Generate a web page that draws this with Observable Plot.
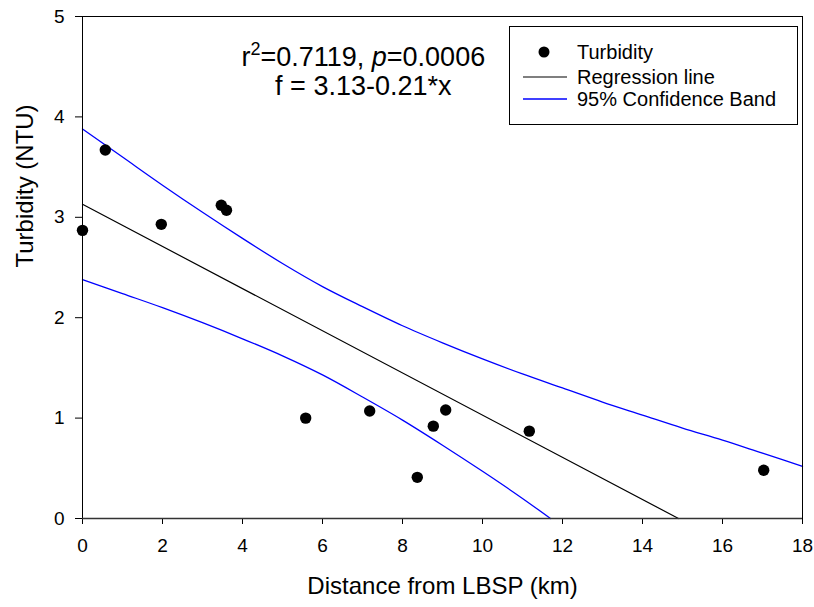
<!DOCTYPE html>
<html><head><meta charset="utf-8">
<script src="https://cdn.jsdelivr.net/npm/d3@7"></script>
<script src="https://cdn.jsdelivr.net/npm/@observablehq/plot@0.6"></script>
<style>body{margin:0;background:#fff;} #chart{width:814px;height:607px;}</style>
</head><body><div id="chart"></div>
<script>
// ---- data ----
const distance  = [0, 0.57, 1.97, 3.47, 3.6, 5.58, 7.18, 8.37, 8.77, 9.08, 11.17, 17.03];
const turbidity = [2.87, 3.67, 2.93, 3.12, 3.07, 1.00, 1.07, 0.41, 0.92, 1.08, 0.87, 0.48];
const regX = [0, 14.9];
const regY = [3.13, 0];
const upperX = [0,1,2,3,4,5,6,7,8,9,10,11,12,13,14,15,16,17,18];
const upperY = [3.88,3.60,3.32,3.05,2.79,2.54,2.31,2.11,1.92,1.75,1.59,1.44,1.30,1.16,1.03,0.90,0.78,0.65,0.52];
const lowerX = [0,1,2,3,4,5,6,7,8,9,10,11,11.7];
const lowerY = [2.38,2.24,2.10,1.95,1.79,1.62,1.43,1.21,0.98,0.73,0.47,0.20,0];
const xTicks = [0,2,4,6,8,10,12,14,16,18];
const yTicks = [0,1,2,3,4,5];
const annotation = ["r2=0.7119, p=0.0006", "f = 3.13-0.21*x"];
const legendLabels = ["Turbidity", "Regression line", "95% Confidence Band"];
const xLabel = "Distance from LBSP (km)";
const yLabel = "Turbidity (NTU)";

const FONT = "'Liberation Sans', Arial, Helvetica, sans-serif";
const pts = distance.map((x, i) => ({x, y: turbidity[i]}));
const reg = regX.map((x, i) => ({x, y: regY[i]}));
const upper = upperX.map((x, i) => ({x, y: upperY[i]}));
const lower = lowerX.map((x, i) => ({x, y: lowerY[i]}));

const chart = Plot.plot({
  width: 814, height: 607,
  marginLeft: 82, marginRight: 12, marginTop: 16, marginBottom: 89,
  style: {fontFamily: FONT, fontSize: "19px", color: "black", background: "white", overflow: "visible"},
  x: {domain: [0, 18], ticks: xTicks, tickSize: 6, tickPadding: 14, label: null, tickFormat: d => String(d)},
  y: {domain: [0, 5], ticks: yTicks, tickSize: 7, tickPadding: 11, label: null, tickFormat: d => String(d)},
  marks: [
    Plot.line(upper, {x: "x", y: "y", stroke: "#0000ff", strokeWidth: 1.3, curve: "monotone-x"}),
    Plot.line(lower, {x: "x", y: "y", stroke: "#0000ff", strokeWidth: 1.3, curve: "monotone-x"}),
    Plot.line(reg, {x: "x", y: "y", stroke: "black", strokeWidth: 1.2}),
    Plot.dot(pts, {x: "x", y: "y", r: 5.7, fill: "black", stroke: "none"}),
    Plot.frame({stroke: "black", strokeWidth: 1}),
    Plot.ruleY([0], {stroke: "#333", strokeWidth: 1.5}),
    Plot.text([annotation[0]], {x: 7.02, y: 4.507, text: d => d, fontSize: 27, lineAnchor: "bottom", textAnchor: "middle", fill: "black"}),
    Plot.text([annotation[1]], {x: 7.02, y: 4.218, text: d => d, fontSize: 27, lineAnchor: "bottom", textAnchor: "middle", fill: "black"}),
    Plot.text([xLabel], {frameAnchor: "bottom", dy: 75, lineAnchor: "bottom", text: d => d, fontSize: 24, fill: "black"}),
    Plot.text([yLabel], {frameAnchor: "left", dx: -50, rotate: -90, lineAnchor: "bottom", text: d => d, fontSize: 24, fill: "black"})
  ]
});
document.getElementById("chart").appendChild(chart);

const svg = d3.select(chart);
// superscript and italic in the statistics line
svg.selectAll("text").filter(function() { return this.textContent === annotation[0]; }).each(function() {
  const t = d3.select(this);
  t.text(null);
  t.append("tspan").text("r");
  t.append("tspan").attr("dy", -11).attr("font-size", 18).text("2");
  t.append("tspan").attr("dy", 11).text("=0.7119, ");
  t.append("tspan").attr("font-style", "italic").text("p");
  t.append("tspan").text("=0.0006");
});

// legend box
const lg = svg.append("g").attr("font-family", FONT).attr("font-size", 20);
lg.append("rect").attr("x", 509.5).attr("y", 26.5).attr("width", 288).attr("height", 98)
  .attr("fill", "white").attr("stroke", "black").attr("stroke-width", 1);
const rowY = [52, 77, 99];
lg.append("circle").attr("cx", 544).attr("cy", rowY[0]).attr("r", 5.5).attr("fill", "black");
lg.append("line").attr("x1", 523).attr("x2", 567).attr("y1", rowY[1]).attr("y2", rowY[1]).attr("stroke", "black").attr("stroke-width", 1.2);
lg.append("line").attr("x1", 523).attr("x2", 567).attr("y1", rowY[2]).attr("y2", rowY[2]).attr("stroke", "#0000ff").attr("stroke-width", 1.3);
legendLabels.forEach((s, i) => {
  lg.append("text").attr("x", 577).attr("y", rowY[i]).attr("dy", "0.35em")
    .attr("text-anchor", "start").attr("fill", "black").text(s);
});
</script>
</body></html>
